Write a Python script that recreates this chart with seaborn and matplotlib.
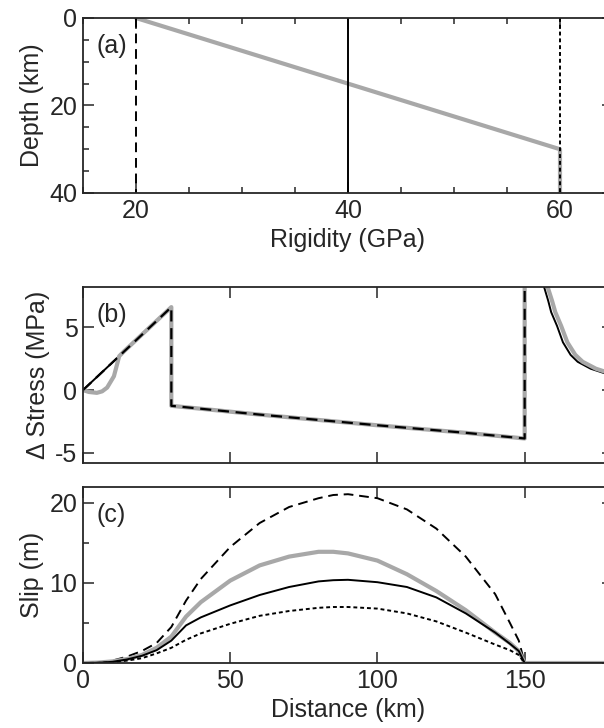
import matplotlib
matplotlib.use("Agg")
import matplotlib.pyplot as plt
import seaborn as sns
import numpy as np
import pandas as pd
from matplotlib.ticker import MultipleLocator

# ---------------- data ----------------
# Panel (a): rigidity profiles vs depth
depth_uniform = [0, 40]
rig_20 = [20, 20]
rig_40 = [40, 40]
rig_60 = [60, 60]
depth_grad = [0, 30, 40]
rig_grad = [20, 60, 60]

# Panel (b): stress change vs distance
dist_b_dash = [0, 30, 30, 60, 100, 130, 150, 150]
stress_dash = [0, 6.6, -1.25, -1.95, -2.8, -3.4, -3.85, 40]

dist_b_solid = [0, 30, 30, 60, 100, 130, 150, 150, 150.5, 152, 154, 156.6, 158, 159, 161, 163, 165.6, 168, 172.4, 177, 180]
stress_solid = [0, 6.6, -1.25, -1.95, -2.8, -3.4, -3.85, 40, 40, 20, 12, 8.2, 7.1, 6.2, 5.1, 3.8, 2.8, 2.25, 1.7, 1.35, 1.25]

dist_b_gray = [0, 2, 4.7, 6.5, 8.2, 10.5, 12.3, 14, 30, 30, 60, 100, 130, 150, 150, 151.5, 153, 155, 157.8, 159.3, 160.4, 162.4, 164.5, 167.2, 169.7, 174.2, 178.8, 181]
stress_gray = [0, -0.15, -0.22, -0.1, 0.2, 1.1, 2.7, 3.1, 6.6, -1.25, -1.95, -2.8, -3.4, -3.85, 40, 40, 20, 12, 8.2, 7.1, 6.2, 5.1, 3.8, 2.8, 2.25, 1.7, 1.35, 1.25]

# Panel (c): slip vs distance
dist_c = [0, 5, 10, 15, 20, 25, 30, 35, 40, 50, 60, 70, 80, 85, 90, 100, 110, 120, 130, 140, 145, 148, 150, 155, 180]
slip_dash = [0, 0.05, 0.3, 0.8, 1.5, 2.5, 4.5, 7.8, 10.5, 14.5, 17.5, 19.5, 20.6, 21.0, 21.1, 20.6, 19.2, 16.8, 13.3, 8.6, 5.0, 2.8, 0, 0, 0]
slip_gray = [0, 0.05, 0.2, 0.5, 1.0, 1.9, 3.3, 5.8, 7.6, 10.3, 12.2, 13.3, 13.9, 13.9, 13.7, 12.8, 11.1, 9.0, 6.6, 3.8, 2.5, 1.5, 0, 0, 0]
slip_solid = [0, 0.03, 0.15, 0.45, 0.9, 1.6, 2.8, 4.7, 5.7, 7.2, 8.5, 9.5, 10.2, 10.35, 10.4, 10.1, 9.5, 8.2, 6.2, 3.8, 2.4, 1.5, 0, 0, 0]
slip_dot = [0, 0.02, 0.1, 0.3, 0.6, 1.2, 1.9, 2.9, 3.7, 4.9, 5.9, 6.5, 6.9, 7.0, 7.0, 6.8, 6.2, 5.2, 3.8, 2.3, 1.6, 1.0, 0, 0, 0]

# ---------------- style ----------------
sns.set_style("ticks")
plt.rcParams['font.family'] = ['Liberation Sans', 'DejaVu Sans']
plt.rcParams['font.size'] = 18
plt.rcParams['axes.linewidth'] = 1.3
plt.rcParams['axes.unicode_minus'] = False

GRAY = "#a8a8a8"
fig = plt.figure(figsize=(6.04, 7.28), dpi=100)
W, H = 604.0, 728.0
left = 83 / W
width = 530 / W

def make_ax(top_px, bot_px):
    return fig.add_axes([left, 1 - bot_px / H, width, (bot_px - top_px) / H])

axa = make_ax(18, 193)
axb = make_ax(287, 463)
axc = make_ax(487, 663)

def line(ax, x, y, **kw):
    df = pd.DataFrame({"x": x, "y": y})
    sns.lineplot(data=df, x="x", y="y", ax=ax, estimator=None, sort=False, **kw)

# Panel (a)
line(axa, rig_grad, depth_grad, color=GRAY, linewidth=3)
line(axa, rig_20, depth_uniform, color="black", linewidth=1.4, linestyle=(0, (5, 3)))
line(axa, rig_40, depth_uniform, color="black", linewidth=1.4)
line(axa, rig_60, depth_uniform, color="black", linewidth=1.4, linestyle=(0, (2, 1.5)))
axa.set_xlim(15, 65)
axa.set_ylim(40, 0)
axa.xaxis.set_major_locator(MultipleLocator(20))
axa.xaxis.set_minor_locator(MultipleLocator(5))
axa.yaxis.set_major_locator(MultipleLocator(20))
axa.yaxis.set_minor_locator(MultipleLocator(5))
axa.set_xlabel("Rigidity (GPa)")
axa.set_ylabel("Depth (km)")
axa.text(0.025, 0.84, "(a)", transform=axa.transAxes, fontsize=18, va="center", ha="left")

# Panel (b)
line(axb, dist_b_solid, stress_solid, color="black", linewidth=1.4)
line(axb, dist_b_gray, stress_gray, color=GRAY, linewidth=3)
line(axb, dist_b_dash, stress_dash, color="black", linewidth=1.6, linestyle=(0, (5, 3)))
axb.set_xlim(0, 180)
axb.set_ylim(-5.8, 8.2)
axb.xaxis.set_major_locator(MultipleLocator(50))
axb.yaxis.set_major_locator(MultipleLocator(5))
axb.set_xticklabels([])
axb.set_xlabel("")
axb.set_ylabel("Δ Stress (MPa)")
axb.text(0.025, 0.84, "(b)", transform=axb.transAxes, fontsize=18, va="center", ha="left")

# Panel (c)
line(axc, dist_c, slip_dash, color="black", linewidth=1.4, linestyle=(0, (5, 3)))
line(axc, dist_c, slip_gray, color=GRAY, linewidth=3)
line(axc, dist_c, slip_solid, color="black", linewidth=1.4)
line(axc, dist_c, slip_dot, color="black", linewidth=1.4, linestyle=(0, (2, 1.5)))
axc.set_xlim(0, 180)
axc.set_ylim(0, 22)
axc.xaxis.set_major_locator(MultipleLocator(50))
axc.yaxis.set_major_locator(MultipleLocator(10))
axc.yaxis.set_minor_locator(MultipleLocator(5))
axc.set_xlabel("Distance (km)")
axc.set_ylabel("Slip (m)")
axc.text(0.025, 0.84, "(c)", transform=axc.transAxes, fontsize=18, va="center", ha="left")

for ax in (axa, axb, axc):
    ax.tick_params(which="both", direction="in", top=True, right=True, width=1.1, labelsize=18)
    ax.tick_params(which="major", length=8, pad=4)
    ax.tick_params(which="minor", length=4)
    for s in ax.spines.values():
        s.set_linewidth(1.3)

fig.savefig("out.png", dpi=100)
